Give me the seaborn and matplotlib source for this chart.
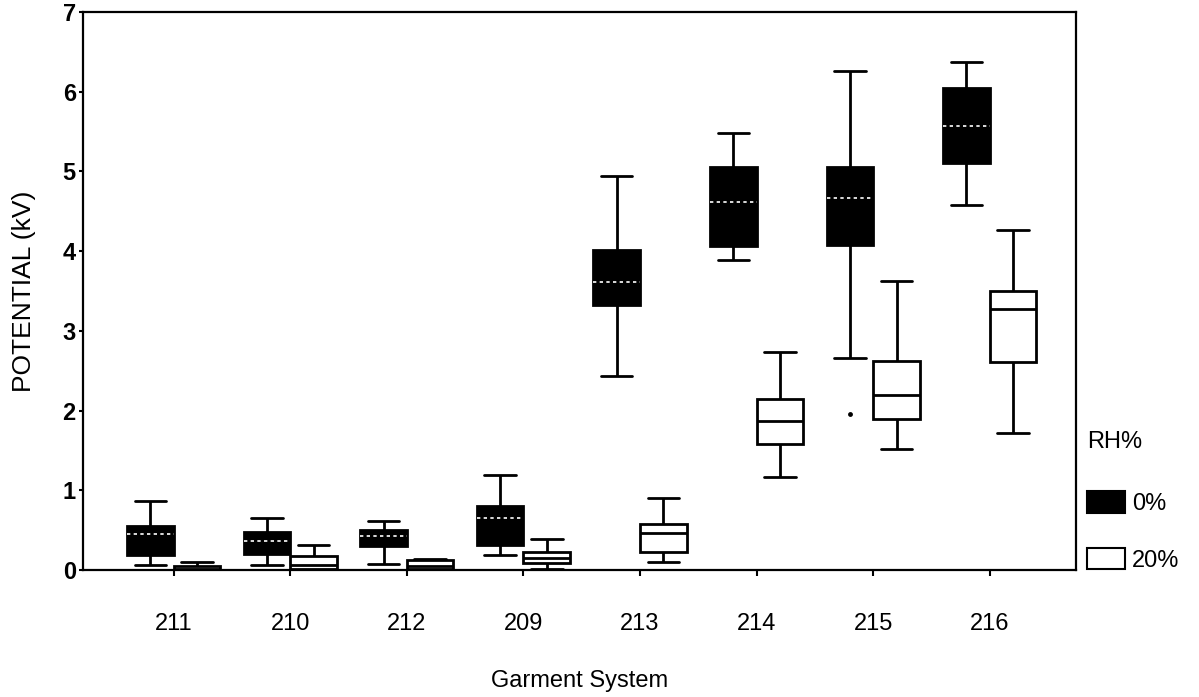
import matplotlib
matplotlib.use("Agg")
import matplotlib.pyplot as plt
from matplotlib.patches import Patch
import pandas as pd
import seaborn as sns

# ---- data ----
systems = ["211", "210", "212", "209", "213", "214", "215", "216"]
rh_levels = ["0%", "20%"]

# RH 0% : whisker low, Q1, median, Q3, whisker high (kV)
rh0_whislo = [0.07, 0.07, 0.08, 0.19, 2.44, 3.89, 2.66, 4.58]
rh0_q1     = [0.19, 0.20, 0.30, 0.31, 3.33, 4.07, 4.08, 5.11]
rh0_med    = [0.45, 0.36, 0.43, 0.65, 3.61, 4.62, 4.66, 5.57]
rh0_q3     = [0.555, 0.48, 0.50, 0.81, 4.02, 5.06, 5.06, 6.05]
rh0_whishi = [0.87, 0.66, 0.62, 1.19, 4.94, 5.48, 6.26, 6.37]

# RH 20%
rh20_whislo = [0.00, 0.00, 0.00, 0.02, 0.10, 1.17, 1.52, 1.72]
rh20_q1     = [0.00, 0.02, 0.02, 0.09, 0.23, 1.58, 1.89, 2.61]
rh20_med    = [0.02, 0.06, 0.05, 0.15, 0.46, 1.87, 2.20, 3.27]
rh20_q3     = [0.05, 0.18, 0.13, 0.23, 0.58, 2.14, 2.62, 3.50]
rh20_whishi = [0.10, 0.31, 0.14, 0.39, 0.91, 2.73, 3.63, 4.26]

# outlier
outlier_system = ["215"]
outlier_rh = ["0%"]
outlier_value = [1.96]

# ---- build long table ----
rows = []
for rh, stats in (("0%", (rh0_whislo, rh0_q1, rh0_med, rh0_q3, rh0_whishi)),
                  ("20%", (rh20_whislo, rh20_q1, rh20_med, rh20_q3, rh20_whishi))):
    for i, s in enumerate(systems):
        for arr in stats:
            rows.append({"system": s, "rh": rh, "value": arr[i]})
df = pd.DataFrame(rows)

sns.set_style("ticks")
plt.rcParams["font.family"] = ["Liberation Sans", "DejaVu Sans"]
plt.rcParams["text.color"] = "black"
plt.rcParams["axes.labelcolor"] = "black"
plt.rcParams["xtick.color"] = "black"
plt.rcParams["ytick.color"] = "black"

fig, ax = plt.subplots(figsize=(11.99, 6.97), dpi=100)
fig.subplots_adjust(left=0.069, right=0.897, top=0.983, bottom=0.182)

palette = {"0%": "black", "20%": "white"}
common = dict(x="system", y="value", hue="rh", hue_order=rh_levels, order=systems,
              palette=palette, linecolor="black", linewidth=2, width=0.8,
              dodge=True, whis=(0, 100), legend=False, fliersize=0,
              capwidths=0.27, ax=ax)

sns.boxplot(data=df[df["rh"] == "0%"],
            medianprops=dict(color="white", linestyle=(0, (2, 2)), linewidth=1.2),
            **common)
sns.boxplot(data=df[df["rh"] == "20%"],
            medianprops=dict(color="black", linewidth=2),
            **common)

sns.stripplot(x=outlier_system, y=outlier_value, hue=outlier_rh, hue_order=rh_levels,
              order=systems, dodge=True, jitter=False,
              palette={"0%": "black", "20%": "black"}, size=3.5,
              legend=False, ax=ax)

ax.set_xlim(-0.78, 7.735)
ax.set_ylim(0, 7)
ax.set_yticks(range(0, 8))
for sp in ax.spines.values():
    sp.set_visible(True)
    sp.set_linewidth(1.6)
    sp.set_color("black")

ax.tick_params(axis="x", length=4, width=1.5, pad=27, labelsize=17,
               colors="black")
ax.tick_params(axis="y", length=3, width=1.5, pad=2, labelsize=17,
               colors="black")
for lab in ax.get_yticklabels():
    lab.set_fontweight("bold")

ax.set_xlabel("Garment System", fontsize=17, labelpad=25, color="black")
ax.set_ylabel("POTENTIAL (kV)", fontsize=19, labelpad=19, color="black")

handles = [Patch(facecolor="black", edgecolor="black", linewidth=1.5),
           Patch(facecolor="white", edgecolor="black", linewidth=1.5)]
leg = ax.legend(handles, rh_levels, title="RH%", loc="upper left",
                bbox_to_anchor=(1.012, 0.25), frameon=False, fontsize=17,
                title_fontsize=17, handlelength=1.6, handleheight=1.0,
                labelspacing=1.4, handletextpad=0.3, borderpad=0,
                borderaxespad=0, alignment="left")
leg._legend_box.sep = 28
for t in leg.get_texts():
    t.set_color("black")
leg.get_title().set_color("black")

fig.savefig("out.png", dpi=100)
